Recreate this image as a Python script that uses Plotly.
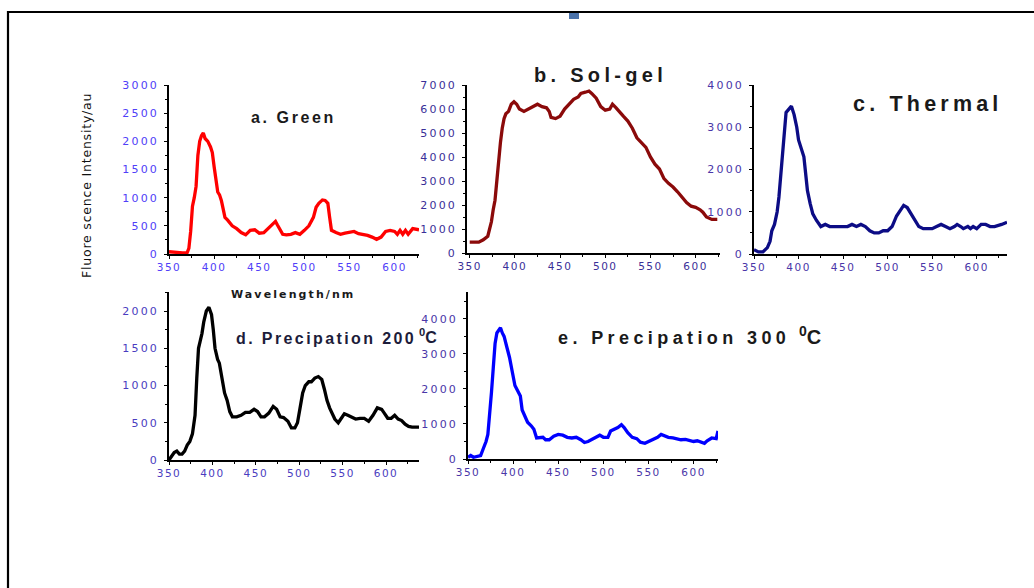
import plotly.graph_objects as go

# ---------------- data ----------------
green_x = [350, 355, 360, 365, 370, 372, 374, 376, 378, 380, 382, 384, 386, 388, 390, 393, 396, 398, 400, 402, 404, 406, 408, 410, 412, 415, 418, 420, 425, 430, 435, 440, 445, 450, 455, 460, 465, 468, 470, 473, 476, 480, 485, 490, 495, 500, 505, 510, 513, 516, 520, 523, 526, 528, 530, 535, 540, 545, 550, 555, 560, 565, 570, 575, 580, 585, 590, 595, 600, 603, 606, 609, 612, 615, 620, 627]
green_y = [40, 30, 20, 20, 20, 100, 400, 850, 1000, 1200, 1750, 2000, 2100, 2150, 2050, 2000, 1900, 1800, 1550, 1300, 1100, 1050, 950, 800, 650, 600, 550, 500, 450, 380, 340, 420, 430, 370, 380, 450, 520, 580, 520, 420, 350, 340, 350, 380, 350, 420, 500, 650, 830, 900, 960, 950, 900, 650, 420, 380, 350, 370, 380, 400, 360, 350, 330, 300, 260, 300, 400, 420, 400, 350, 420, 350, 420, 350, 450, 430]

solgel_x = [350, 355, 360, 365, 370, 372, 374, 376, 378, 380, 382, 384, 386, 388, 390, 393, 396, 399, 402, 405, 410, 415, 420, 425, 430, 435, 438, 440, 445, 450, 455, 460, 465, 470, 473, 478, 482, 485, 490, 495, 500, 505, 508, 512, 515, 520, 525, 530, 535, 540, 545, 550, 555, 560, 565, 570, 575, 580, 585, 590, 595, 600, 605, 608, 612, 618, 624]
solgel_y = [450, 450, 450, 550, 700, 1000, 1300, 1800, 2200, 3000, 3900, 4600, 5200, 5600, 5800, 5900, 6200, 6300, 6200, 6000, 5900, 6000, 6100, 6200, 6100, 6050, 5900, 5650, 5600, 5700, 6000, 6200, 6400, 6500, 6650, 6700, 6750, 6650, 6450, 6100, 5950, 6000, 6200, 6050, 5900, 5700, 5500, 5200, 4800, 4600, 4400, 4000, 3700, 3500, 3100, 2900, 2750, 2550, 2300, 2100, 1950, 1900, 1800, 1700, 1500, 1400, 1400]

thermal_x = [350, 355, 360, 365, 368, 370, 373, 376, 378, 380, 382, 384, 386, 388, 390, 392, 395, 398, 400, 403, 406, 408, 410, 413, 416, 420, 425, 430, 435, 445, 455, 460, 465, 470, 475, 480, 485, 490, 495, 500, 505, 510, 515, 518, 522, 526, 530, 535, 540, 550, 555, 560, 565, 570, 575, 578, 582, 585, 590, 593, 596, 600, 605, 610, 615, 620, 628, 634]
thermal_y = [100, 50, 50, 150, 300, 550, 700, 1000, 1350, 1900, 2500, 3000, 3350, 3400, 3450, 3500, 3300, 3000, 2700, 2500, 2300, 1900, 1500, 1200, 950, 800, 650, 700, 650, 650, 650, 700, 650, 700, 650, 550, 500, 500, 550, 550, 650, 900, 1050, 1150, 1100, 950, 800, 650, 600, 600, 650, 700, 650, 600, 650, 700, 650, 600, 650, 600, 650, 600, 700, 700, 650, 650, 700, 750]

prec200_x = [350, 353, 356, 359, 362, 365, 368, 371, 374, 377, 380, 382, 384, 386, 388, 390, 393, 396, 399, 401, 403, 406, 408, 411, 414, 417, 420, 423, 428, 433, 438, 443, 448, 452, 456, 460, 465, 470, 474, 478, 482, 487, 491, 495, 498, 501, 504, 507, 511, 514, 518, 522, 526, 529, 532, 535, 538, 541, 545, 548, 552, 556, 560, 565, 570, 575, 580, 585, 590, 595, 598, 602, 606, 610, 614, 618, 622, 626, 630, 638]
prec200_y = [0, 50, 100, 120, 80, 80, 120, 200, 250, 350, 600, 1100, 1500, 1600, 1700, 1850, 2000, 2050, 1950, 1750, 1500, 1350, 1300, 1100, 900, 800, 650, 580, 580, 600, 640, 640, 680, 650, 580, 580, 630, 720, 680, 580, 570, 520, 430, 430, 500, 700, 900, 1000, 1050, 1050, 1100, 1120, 1080, 950, 800, 700, 620, 550, 500, 560, 620, 600, 580, 550, 560, 560, 520, 600, 700, 680, 630, 560, 560, 600, 550, 530, 480, 450, 440, 440]

prec300_x = [350, 353, 356, 360, 364, 367, 370, 372, 374, 376, 378, 380, 382, 384, 386, 388, 390, 393, 396, 399, 402, 405, 408, 410, 413, 416, 420, 423, 426, 430, 433, 436, 440, 445, 450, 455, 460, 465, 470, 475, 479, 483, 487, 492, 496, 500, 505, 508, 512, 516, 520, 523, 527, 532, 537, 541, 546, 550, 555, 560, 564, 568, 572, 577, 581, 586, 591, 596, 600, 604, 608, 612, 615, 620, 625, 627]
prec300_y = [50, 100, 50, 80, 100, 300, 500, 700, 1200, 1900, 2600, 3300, 3600, 3700, 3750, 3600, 3500, 3200, 2900, 2500, 2100, 1950, 1800, 1400, 1200, 1050, 950, 850, 600, 600, 620, 550, 550, 650, 700, 680, 620, 600, 620, 550, 470, 500, 550, 620, 680, 620, 620, 800, 850, 900, 980, 900, 750, 620, 580, 480, 450, 500, 550, 620, 700, 650, 620, 600, 580, 550, 560, 520, 500, 520, 480, 450, 520, 600, 580, 800]

wl_ticks = [350, 400, 450, 500, 550, 600]
yticks_a = [0, 500, 1000, 1500, 2000, 2500, 3000]
yticks_b = [0, 1000, 2000, 3000, 4000, 5000, 6000, 7000]
yticks_c = [0, 1000, 2000, 3000, 4000]
yticks_d = [0, 500, 1000, 1500, 2000]
yticks_e = [0, 1000, 2000, 3000, 4000]

titles = ["a. Green", "b. Sol-gel", "c. Thermal", "d. Precipation 200", "e. Precipation 300"]
deg = "<sup>0</sup>C"
ylabel = "Fluore scence Intensity/au"
xlabel = "Wavelength/nm"

# ---------------- layout helpers ----------------
W, H = 1034, 588


def px(x):
    return x / W


def py(y):
    return 1 - y / H


def sp(text, ls):
    return "<span style='letter-spacing:%spx'>%s</span>" % (ls, text)


panels = [
    # x data, y data, color, xpix, ypix, xrange, yrange, yticks, ydminor, tickcolor
    (green_x, green_y, "#ff0000", (169, 419), (85, 254), [350, 627], [0, 3000], yticks_a, 250, "#5040f8"),
    (solgel_x, solgel_y, "#8b0a0a", (467, 720), (85, 253), [347, 627], [0, 7000], yticks_b, 500, "#3a2f98"),
    (thermal_x, thermal_y, "#0c0c85", (754, 1007), (85, 254), [350, 634], [0, 4000], yticks_c, 500, "#4a36a8"),
    (prec200_x, prec200_y, "#000000", (169, 419), (292, 460), [350, 638], [0, 2255], yticks_d, 250, "#4a3cc0"),
    (prec300_x, prec300_y, "#0000ff", (468, 718), (292, 459), [350, 627], [0, 4770], yticks_e, 500, "#4a36a8"),
]

fig = go.Figure()
layout = dict(
    width=W, height=H, autosize=False,
    margin=dict(l=0, r=0, t=0, b=0, pad=0, autoexpand=False),
    paper_bgcolor="white", plot_bgcolor="white",
    showlegend=False,
)

for i, (xs, ys, col, xp, yp, xr, yr, ytv, ymin, tcol) in enumerate(panels):
    n = "" if i == 0 else str(i + 1)
    fig.add_trace(go.Scatter(x=xs, y=ys, mode="lines", line=dict(color=col, width=3.3),
                             xaxis="x" + n, yaxis="y" + n, hoverinfo="skip"))
    layout["xaxis" + n] = dict(
        domain=[px(xp[0]), px(xp[1])], range=xr, anchor="y" + n, automargin=False,
        showgrid=False, zeroline=False, showline=True, linecolor="black", linewidth=1.5,
        ticks="outside", ticklen=3, tickcolor="black", tickwidth=1,
        tickvals=wl_ticks, ticktext=[sp(v, 1.5) for v in wl_ticks],
        tickfont=dict(family="DejaVu Sans", size=10.5, color=tcol),
        minor=dict(dtick=25, tick0=350, ticks="outside", ticklen=2, tickcolor="black", showgrid=False),
        fixedrange=True,
    )
    layout["yaxis" + n] = dict(
        domain=[py(yp[1]), py(yp[0])], range=yr, anchor="x" + n, automargin=False,
        showgrid=False, zeroline=False, showline=True, linecolor="black", linewidth=1.5,
        ticks="outside", ticklen=3, tickcolor="black", tickwidth=1,
        tickvals=ytv, ticktext=[sp(v, 2.2) for v in ytv],
        tickfont=dict(family="DejaVu Sans", size=11, color=tcol),
        minor=dict(dtick=ymin, tick0=0, ticks="outside", ticklen=2, tickcolor="black", showgrid=False),
        ticklabelstandoff=3,
        fixedrange=True,
    )

fig.update_layout(**layout)

tfont = "Liberation Sans"
ann = [
    dict(x=px(293), y=py(117), text="<b>" + sp(titles[0], 2.6) + "</b>", size=16, color="#1a1a1a", xa="center"),
    dict(x=px(600), y=py(75), text="<b>" + sp(titles[1], 4.3) + "</b>", size=20, color="#1a1a1a", xa="center"),
    dict(x=px(928), y=py(104), text="<b>" + sp(titles[2], 4.2) + "</b>", size=21.5, color="#1a1a1a", xa="center"),
    dict(x=px(234), y=py(338), text="<b>" + sp(titles[3], 2.4) + "</b>", size=16, color="#1c1c3a", xa="left"),
    dict(x=px(417), y=py(336), text="<b>" + deg + "</b>", size=16, color="#1c1c3a", xa="left"),
    dict(x=px(556), y=py(338), text="<b>" + sp(titles[4], 4.4) + "</b>", size=18, color="#1a1a1a", xa="left"),
    dict(x=px(797), y=py(335), text="<b>" + deg + "</b>", size=20, color="#1a1a1a", xa="left"),
]
for a in ann:
    fig.add_annotation(x=a["x"], y=a["y"], xref="paper", yref="paper", text=a["text"],
                       showarrow=False, xanchor=a["xa"], yanchor="middle",
                       font=dict(family=tfont, size=a["size"], color=a["color"]))

fig.add_annotation(x=px(86), y=py(186), xref="paper", yref="paper", text=sp(ylabel, 0.8), textangle=-90,
                   showarrow=False, xanchor="center", yanchor="middle",
                   font=dict(family="DejaVu Sans", size=12.5, color="#111111"))
fig.add_annotation(x=px(293), y=py(295), xref="paper", yref="paper",
                   text="<b>" + sp(xlabel, 2.1) + "</b>",
                   showarrow=False, xanchor="center", yanchor="middle",
                   font=dict(family="DejaVu Sans", size=11, color="#1a1a1a"))

# outer frame and small marker
fig.add_shape(type="line", xref="paper", yref="paper", x0=px(8), x1=px(8), y0=py(11), y1=0,
              line=dict(color="black", width=2.2))
fig.add_shape(type="line", xref="paper", yref="paper", x0=px(7), x1=1, y0=py(12), y1=py(12),
              line=dict(color="black", width=2.2))
fig.add_shape(type="rect", xref="paper", yref="paper", x0=px(569), x1=px(579), y0=py(19), y1=py(13),
              line=dict(width=0), fillcolor="#4a72aa")

fig.write_html("out.html")
